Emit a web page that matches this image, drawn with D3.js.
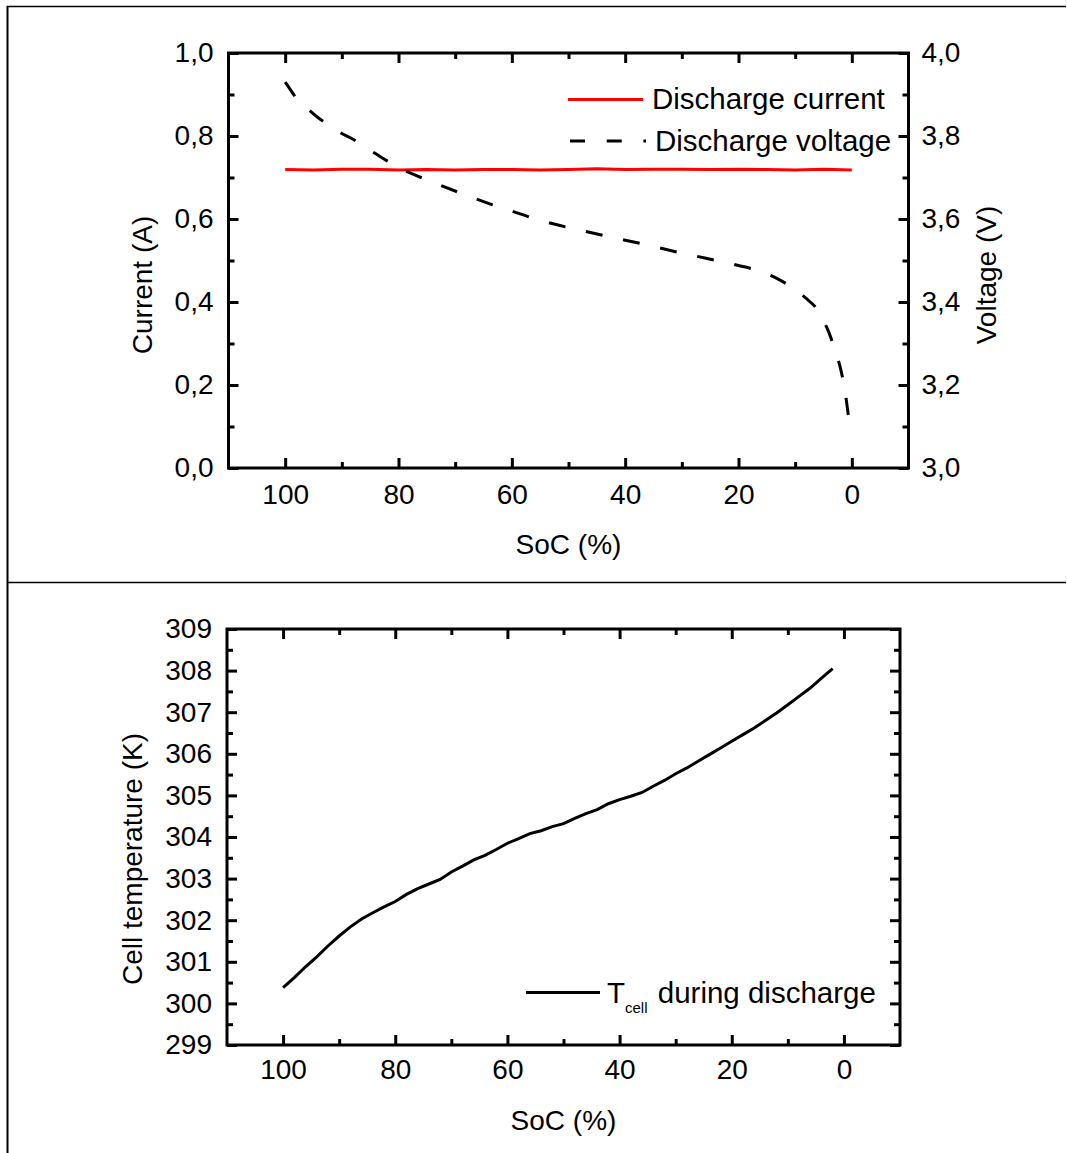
<!DOCTYPE html>
<html>
<head>
<meta charset="utf-8">
<script src="https://cdn.jsdelivr.net/npm/d3@7"></script>
<style>
  body { margin: 0; background: #fff; }
  text { font-family: "Liberation Sans", Arial, sans-serif; fill: #000; }
</style>
</head>
<body>
<svg id="chart" width="1067" height="1153"></svg>
<script>
// ---- data ----
const socTicks = [100, 80, 60, 40, 20, 0];
const socMinor = [90, 70, 50, 30, 10];

const currentTicks = [0, 0.2, 0.4, 0.6, 0.8, 1.0];
const currentMinor = [0.1, 0.3, 0.5, 0.7, 0.9];
const voltTicks = [3.0, 3.2, 3.4, 3.6, 3.8, 4.0];
const voltMinor = [3.1, 3.3, 3.5, 3.7, 3.9];

const tempTicks = [299, 300, 301, 302, 303, 304, 305, 306, 307, 308, 309];
const tempMinor = [299.5, 300.5, 301.5, 302.5, 303.5, 304.5, 305.5, 306.5, 307.5, 308.5];

// discharge current (A) vs SoC
const currentSoc = [100, 95, 90, 85, 80, 75, 70, 65, 60, 55, 50, 45, 40, 35, 30, 25, 20, 15, 10, 5, 0];
const currentVal = [0.719, 0.718, 0.72, 0.72, 0.718, 0.719, 0.718, 0.719, 0.719, 0.718, 0.719,
                    0.721, 0.719, 0.72, 0.72, 0.719, 0.72, 0.719, 0.718, 0.72, 0.718];

// discharge voltage (V) vs SoC
const voltSoc = [100, 99, 98, 96, 94, 92, 90, 88, 86, 84, 82, 80, 76, 72, 68, 64, 60, 56, 52, 48,
                 44, 40, 36, 32, 28, 24, 20, 16, 13, 10, 8, 6, 5, 4, 3, 2, 1.2, 0.6];
const voltVal = [3.930, 3.910, 3.890, 3.865, 3.842, 3.824, 3.806, 3.792, 3.774, 3.757, 3.740, 3.724,
                 3.700, 3.678, 3.657, 3.637, 3.619, 3.601, 3.586, 3.573, 3.561, 3.549, 3.537, 3.524,
                 3.512, 3.500, 3.488, 3.473, 3.455, 3.430, 3.408, 3.380, 3.355, 3.325, 3.285, 3.240,
                 3.185, 3.125];

// cell temperature (K) vs SoC
const tempSoc = [100, 98, 96, 94, 92, 90, 88, 86, 84, 82, 80, 78, 76, 74, 72, 70, 68, 66, 64, 62,
                 60, 58, 56, 54, 52, 50, 48, 46, 44, 42, 40, 38, 36, 34, 32, 30, 28, 26, 24, 22,
                 20, 18, 16, 14, 12, 10, 8, 6, 4, 2];
const tempVal = [300.38, 300.62, 300.88, 301.12, 301.38, 301.62, 301.84, 302.03, 302.18, 302.32,
                 302.45, 302.62, 302.76, 302.87, 302.98, 303.16, 303.30, 303.45, 303.56, 303.70,
                 303.85, 303.96, 304.08, 304.15, 304.25, 304.32, 304.45, 304.56, 304.66, 304.80,
                 304.90, 304.98, 305.07, 305.22, 305.36, 305.52, 305.66, 305.82, 305.98, 306.14,
                 306.30, 306.46, 306.62, 306.80, 306.98, 307.18, 307.38, 307.58, 307.82, 308.05];

const svg = d3.select("#chart");
const FS = 28;     // tick labels and axis titles
const LFS = 29.5;  // legend text
const commaFmt = (d) => d3.format(".1f")(d).replace(".", ",");

// table lines around the two panels
svg.append("line").attr("x1", 7.5).attr("x2", 7.5).attr("y1", 6).attr("y2", 1153)
  .attr("stroke", "#000").attr("stroke-width", 2);
svg.append("line").attr("x1", 7).attr("x2", 1066).attr("y1", 6.5).attr("y2", 6.5)
  .attr("stroke", "#000").attr("stroke-width", 1.3);
svg.append("line").attr("x1", 7).attr("x2", 1066).attr("y1", 582.5).attr("y2", 582.5)
  .attr("stroke", "#000").attr("stroke-width", 1.3);

function styleAxis(g) {
  g.select(".domain").remove();
  g.selectAll(".tick line").attr("stroke", "#000").attr("stroke-width", 3);
  g.selectAll("text").attr("font-size", FS).attr("font-family", "Liberation Sans, Arial, sans-serif").attr("fill", "#000");
}

// frame with inward major + minor ticks on all four sides
function drawFrame(g, x, y, yMajor, yMinor, left, right, top, bottom, opts) {
  g.append("g").attr("transform", "translate(0," + bottom + ")")
    .call(d3.axisBottom(x).tickValues(socTicks).tickSize(-10).tickSizeOuter(0).tickPadding(opts.xPad))
    .call(styleAxis);
  g.append("g").attr("transform", "translate(0," + bottom + ")")
    .call(d3.axisBottom(x).tickValues(socMinor).tickSize(-6).tickFormat(""))
    .call(styleAxis);
  g.append("g").attr("transform", "translate(0," + top + ")")
    .call(d3.axisTop(x).tickValues(socTicks).tickSize(-10).tickFormat(""))
    .call(styleAxis);
  g.append("g").attr("transform", "translate(0," + top + ")")
    .call(d3.axisTop(x).tickValues(socMinor).tickSize(-6).tickFormat(""))
    .call(styleAxis);
  g.append("g").attr("transform", "translate(" + left + ",0)")
    .call(d3.axisLeft(y).tickValues(yMajor).tickSize(-10).tickPadding(opts.yPad).tickFormat(opts.yFmt))
    .call(styleAxis);
  g.append("g").attr("transform", "translate(" + left + ",0)")
    .call(d3.axisLeft(y).tickValues(yMinor).tickSize(-6).tickFormat(""))
    .call(styleAxis);
  if (!opts.skipRight) {
    g.append("g").attr("transform", "translate(" + right + ",0)")
      .call(d3.axisRight(y).tickValues(yMajor).tickSize(-10).tickFormat(""))
      .call(styleAxis);
    g.append("g").attr("transform", "translate(" + right + ",0)")
      .call(d3.axisRight(y).tickValues(yMinor).tickSize(-6).tickFormat(""))
      .call(styleAxis);
  }
  g.append("rect").attr("x", left).attr("y", top)
    .attr("width", right - left).attr("height", bottom - top)
    .attr("fill", "none").attr("stroke", "#000").attr("stroke-width", 3);
}

// ---------------- top panel ----------------
{
  const left = 228.5, right = 908.5, top = 53, bottom = 468;
  const x = d3.scaleLinear().domain([110, -10]).range([left, right]);
  const yI = d3.scaleLinear().domain([0, 1]).range([bottom, top]);
  const yV = d3.scaleLinear().domain([3, 4]).range([bottom, top]);
  const g = svg.append("g");

  drawFrame(g, x, yI, currentTicks, currentMinor, left, right, top, bottom,
    { xPad: 16, yPad: 15, yFmt: commaFmt, skipRight: true });

  // right voltage axis
  g.append("g").attr("transform", "translate(" + right + ",0)")
    .call(d3.axisRight(yV).tickValues(voltTicks).tickSize(-10).tickPadding(13).tickFormat(commaFmt))
    .call(styleAxis);
  g.append("g").attr("transform", "translate(" + right + ",0)")
    .call(d3.axisRight(yV).tickValues(voltMinor).tickSize(-6).tickFormat(""))
    .call(styleAxis);

  const currentData = currentSoc.map((s, i) => ({ s: s, v: currentVal[i] }));
  const voltData = voltSoc.map((s, i) => ({ s: s, v: voltVal[i] }));

  g.append("path").datum(currentData)
    .attr("fill", "none").attr("stroke", "#ff0000").attr("stroke-width", 3)
    .attr("d", d3.line().x((d) => x(d.s)).y((d) => yI(d.v)));

  g.append("path").datum(voltData)
    .attr("fill", "none").attr("stroke", "#000").attr("stroke-width", 3)
    .attr("stroke-dasharray", "17,21")
    .attr("d", d3.line().curve(d3.curveMonotoneX).x((d) => x(d.s)).y((d) => yV(d.v)));

  // legend
  g.append("line").attr("x1", 568).attr("x2", 643).attr("y1", 99.5).attr("y2", 99.5)
    .attr("stroke", "#ff0000").attr("stroke-width", 3);
  g.append("text").attr("x", 652).attr("y", 109).attr("font-size", LFS).text("Discharge current");
  g.append("line").attr("x1", 570).attr("x2", 646).attr("y1", 141).attr("y2", 141)
    .attr("stroke", "#000").attr("stroke-width", 3).attr("stroke-dasharray", "15,21.7");
  g.append("text").attr("x", 655).attr("y", 151).attr("font-size", LFS).text("Discharge voltage");

  // axis titles
  g.append("text").attr("x", (left + right) / 2).attr("y", 554)
    .attr("text-anchor", "middle").attr("font-size", FS).text("SoC (%)");
  g.append("text").attr("transform", "translate(152,285) rotate(-90)")
    .attr("text-anchor", "middle").attr("font-size", FS).text("Current (A)");
  g.append("text").attr("transform", "translate(996,275) rotate(-90)")
    .attr("text-anchor", "middle").attr("font-size", FS).text("Voltage (V)");
}

// ---------------- bottom panel ----------------
{
  const left = 227, right = 900, top = 629, bottom = 1045;
  const x = d3.scaleLinear().domain([110, -10]).range([left, right]);
  const y = d3.scaleLinear().domain([299, 309]).range([bottom, top]);
  const g = svg.append("g");

  drawFrame(g, x, y, tempTicks, tempMinor, left, right, top, bottom,
    { xPad: 14, yPad: 15, yFmt: d3.format("d") });

  const tempData = tempSoc.map((s, i) => ({ s: s, v: tempVal[i] }));
  g.append("path").datum(tempData)
    .attr("fill", "none").attr("stroke", "#000").attr("stroke-width", 3)
    .attr("d", d3.line().x((d) => x(d.s)).y((d) => y(d.v)));

  // legend
  g.append("line").attr("x1", 526).attr("x2", 600).attr("y1", 992.5).attr("y2", 992.5)
    .attr("stroke", "#000").attr("stroke-width", 3);
  const lt = g.append("text").attr("x", 607).attr("y", 1003).attr("font-size", LFS);
  lt.append("tspan").text("T");
  lt.append("tspan").attr("font-size", 15).attr("dy", 10).text("cell");
  lt.append("tspan").attr("dy", -10).attr("dx", 2).text(" during discharge");

  // axis titles
  g.append("text").attr("x", (left + right) / 2).attr("y", 1130)
    .attr("text-anchor", "middle").attr("font-size", FS).text("SoC (%)");
  g.append("text").attr("transform", "translate(142,859) rotate(-90)")
    .attr("text-anchor", "middle").attr("font-size", FS).text("Cell temperature (K)");
}
</script>
</body>
</html>
